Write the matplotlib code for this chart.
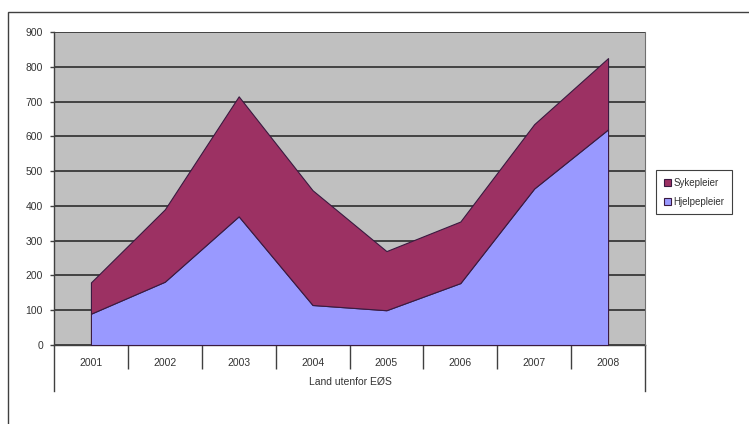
import matplotlib
matplotlib.use("Agg")
import matplotlib.pyplot as plt
from matplotlib.lines import Line2D
from matplotlib.patches import Rectangle

plt.rcParams['font.family'] = ['Liberation Sans', 'DejaVu Sans']

# Data
years = ['2001', '2002', '2003', '2004', '2005', '2006', '2007', '2008']
hjelpepleier = [90, 182, 370, 115, 100, 178, 450, 620]
sykepleier_total = [180, 390, 715, 445, 270, 355, 635, 825]
sykepleier = [t - h for t, h in zip(sykepleier_total, hjelpepleier)]
group_label = 'Land utenfor EØS'
y_ticks = list(range(0, 901, 100))

W, H = 749, 424
fig = plt.figure(figsize=(W / 100, H / 100), dpi=100)
ax = fig.add_axes([54 / W, 1 - 345 / H, (645 - 54) / W, (345 - 32) / H])
ax.set_facecolor('#c0c0c0')

x = list(range(len(years)))
ax.stackplot(x, hjelpepleier, sykepleier,
             colors=['#9999ff', '#9c3163'],
             edgecolor='#3a1a40', linewidth=0.8,
             labels=['Hjelpepleier', 'Sykepleier'], zorder=3)

ax.set_xlim(-0.5, len(years) - 0.5)
ax.set_ylim(0, 900)
ax.set_yticks(y_ticks)
ax.set_yticklabels([str(v) for v in y_ticks], fontsize=7.5, color='#333333')
ax.yaxis.grid(True, color='#202020', linewidth=1.1, zorder=1)
ax.set_axisbelow(True)

ax.set_xticks(x)
ax.set_xticklabels(years, fontsize=7.5, color='#333333')
ax.tick_params(axis='x', which='major', length=0, pad=9)
ax.set_xticks([i + 0.5 for i in x[:-1]], minor=True)
ax.tick_params(axis='x', which='minor', length=17, width=1, color='#404040')
ax.tick_params(axis='y', length=3, width=1, color='#404040', pad=5)

for s in ['top', 'right']:
    ax.spines[s].set_visible(False)
for s in ['left', 'bottom']:
    ax.spines[s].set_color('#404040')
    ax.spines[s].set_linewidth(1)

# extended axis lines of the category axis
fig.add_artist(Line2D([54 / W, 54 / W], [1 - 345 / H, 1 - 391 / H], color='#404040', lw=1))
fig.add_artist(Line2D([645 / W, 645 / W], [1 - 345 / H, 1 - 391 / H], color='#404040', lw=1))
fig.add_artist(Line2D([645 / W, 645 / W], [1 - 345 / H, 1 - 32 / H], color='#707070', lw=0.8))

fig.text(350 / W, 1 - 382 / H, group_label, fontsize=7.5, color='#333333',
         ha='center', va='center')

# outer chart frame
fig.add_artist(Rectangle((8 / W, -0.1), 1.2, 1 - 12 / H + 0.1, transform=fig.transFigure,
                         fill=False, edgecolor='#404040', lw=1))

handles, labels = ax.get_legend_handles_labels()
leg = fig.legend(handles[::-1], labels[::-1], loc='upper left',
                 bbox_to_anchor=(656 / W, 1 - 170 / H), borderaxespad=0,
                 fontsize=7, handlelength=0.7, handleheight=0.7,
                 handletextpad=0.3, borderpad=0.8, labelspacing=0.9,
                 fancybox=False, edgecolor='#404040', framealpha=1)
leg.get_frame().set_linewidth(0.8)
for t in leg.get_texts():
    t.set_color('#333333')

fig.savefig('out.png', dpi=100)
